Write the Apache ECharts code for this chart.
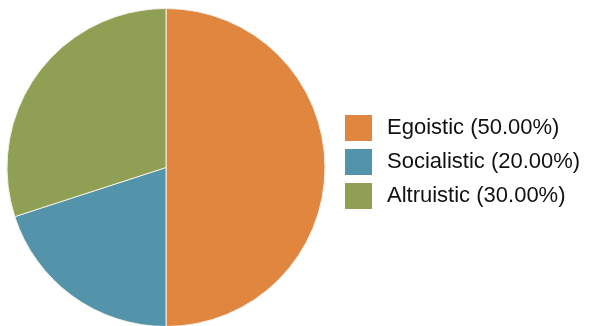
<!DOCTYPE html>
<html>
<head>
<meta charset="utf-8">
<script src="https://cdn.jsdelivr.net/npm/echarts@6/dist/echarts.min.js"></script>
<style>html,body{margin:0;padding:0;background:#fff;}#c{width:590px;height:326px;}</style>
</head>
<body>
<div id="c"></div>
<script>
const categories = ["Egoistic", "Socialistic", "Altruistic"];
const values = [50, 20, 30];
const colors = ["#E0863E", "#5494AB", "#8FA055"];

const total = values.reduce((a, b) => a + b, 0);
const chart = echarts.init(document.getElementById('c'), null, {renderer: 'canvas'});
chart.setOption({
  animation: false,
  color: colors,
  legend: {
    orient: 'vertical',
    left: 345,
    top: 115,
    padding: 0,
    itemWidth: 27,
    itemHeight: 26,
    itemGap: 8,
    icon: 'rect',
    itemStyle: {borderWidth: 0},
    textStyle: {fontFamily: 'Liberation Sans, Arial, sans-serif', fontSize: 22, color: '#111', padding: [0, 0, 0, 10]},
    formatter: function (name) {
      const i = categories.indexOf(name);
      return name + ' (' + (values[i] / total * 100).toFixed(2) + '%)';
    },
    data: categories
  },
  series: [{
    type: 'pie',
    center: [166, 167.5],
    radius: 159,
    startAngle: 90,
    clockwise: true,
    label: {show: false},
    labelLine: {show: false},
    itemStyle: {borderColor: '#f3efe6', borderWidth: 1},
    emphasis: {disabled: true},
    data: categories.map((n, i) => ({name: n, value: values[i]}))
  }]
});
</script>
</body>
</html>
